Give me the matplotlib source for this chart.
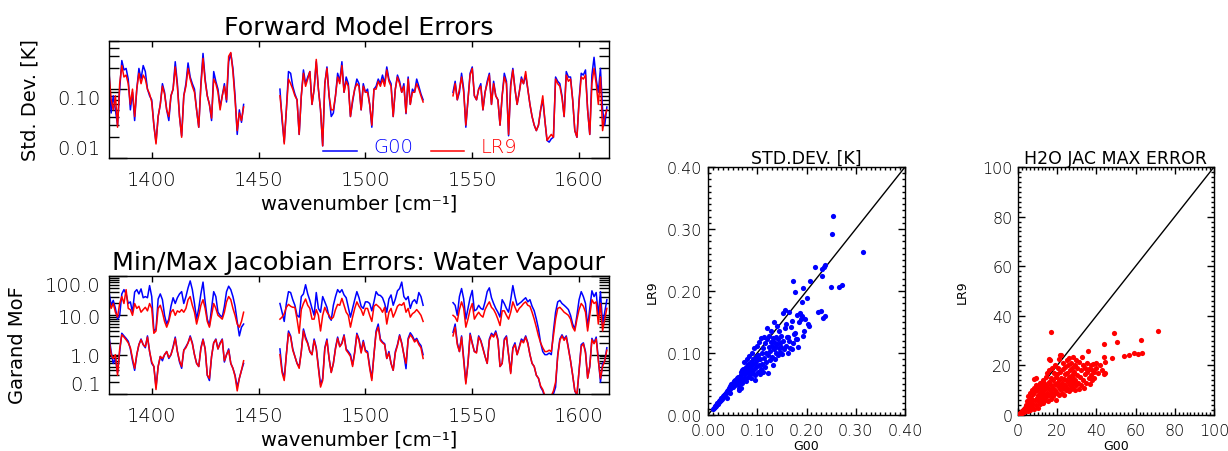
import numpy as np
import matplotlib
matplotlib.use("Agg")
import matplotlib.pyplot as plt
from matplotlib.ticker import LogLocator, NullFormatter, MultipleLocator, FormatStrFormatter

plt.rcParams['font.family'] = ['DejaVu Sans']
plt.rcParams['font.weight'] = 200

# channel wavenumbers [cm-1], three bands with gaps between them
wavenumber = list(range(1380, 1444)) + list(range(1460, 1528)) + list(range(1541, 1614))

# forward model std. dev. [K]
std_g00 = [
    0.19, 0.045, 0.08, 0.05, 0.03, 0.10, 0.26, 0.19, 0.20, 0.14,
    0.05, 0.09, 0.035, 0.10, 0.20, 0.14, 0.22, 0.18, 0.10, 0.08,
    0.07, 0.03, 0.017, 0.04, 0.06, 0.12, 0.09, 0.05, 0.035, 0.08,
    0.10, 0.25, 0.12, 0.04, 0.021, 0.08, 0.12, 0.24, 0.15, 0.12,
    0.10, 0.05, 0.028, 0.12, 0.33, 0.14, 0.08, 0.06, 0.035, 0.18,
    0.13, 0.10, 0.055, 0.08, 0.12, 0.065, 0.25, 0.33, 0.20, 0.08,
    0.022, 0.05, 0.033, 0.06,
    0.10, 0.035, 0.017, 0.05, 0.18, 0.17, 0.11, 0.085, 0.07, 0.022,
    0.08, 0.19, 0.12, 0.15, 0.18, 0.06, 0.10, 0.25, 0.10, 0.05,
    0.015, 0.12, 0.21, 0.08, 0.04, 0.045, 0.08, 0.17, 0.13, 0.25,
    0.09, 0.15, 0.12, 0.04, 0.065, 0.10, 0.14, 0.12, 0.05, 0.12,
    0.09, 0.10, 0.06, 0.028, 0.10, 0.11, 0.14, 0.12, 0.16, 0.12,
    0.21, 0.14, 0.12, 0.04, 0.10, 0.16, 0.13, 0.09, 0.12, 0.044,
    0.15, 0.06, 0.10, 0.09, 0.14, 0.11, 0.085, 0.07,
    0.09, 0.13, 0.07, 0.09, 0.17, 0.10, 0.028, 0.07, 0.17,
    0.21, 0.08, 0.07, 0.10, 0.12, 0.05, 0.09, 0.13, 0.17, 0.06,
    0.13, 0.08, 0.07, 0.03, 0.08, 0.17, 0.13, 0.021, 0.12, 0.20,
    0.10, 0.06, 0.09, 0.15, 0.12, 0.16, 0.10, 0.06, 0.04, 0.03,
    0.025, 0.03, 0.05, 0.07, 0.035, 0.018, 0.017, 0.019, 0.02, 0.15,
    0.13, 0.12, 0.08, 0.04, 0.18, 0.15, 0.15, 0.07, 0.025, 0.02,
    0.07, 0.17, 0.16, 0.19, 0.05, 0.022, 0.16, 0.29, 0.14, 0.09,
    0.20, 0.05, 0.03, 0.055,
]
std_lr9 = [
    0.17, 0.07, 0.05, 0.08, 0.028, 0.12, 0.22, 0.15, 0.16, 0.12,
    0.06, 0.10, 0.04, 0.10, 0.17, 0.12, 0.16, 0.14, 0.10, 0.085,
    0.065, 0.03, 0.016, 0.04, 0.06, 0.11, 0.085, 0.05, 0.04, 0.08,
    0.10, 0.21, 0.11, 0.04, 0.02, 0.08, 0.11, 0.20, 0.14, 0.11,
    0.09, 0.05, 0.028, 0.11, 0.28, 0.13, 0.08, 0.06, 0.038, 0.14,
    0.12, 0.09, 0.05, 0.08, 0.11, 0.07, 0.30, 0.34, 0.18, 0.07,
    0.025, 0.045, 0.035, 0.055,
    0.08, 0.04, 0.016, 0.05, 0.14, 0.12, 0.10, 0.08, 0.07, 0.022,
    0.08, 0.17, 0.11, 0.14, 0.18, 0.06, 0.10, 0.27, 0.10, 0.05,
    0.015, 0.12, 0.20, 0.08, 0.05, 0.05, 0.08, 0.15, 0.12, 0.22,
    0.09, 0.13, 0.11, 0.04, 0.07, 0.10, 0.12, 0.11, 0.05, 0.11,
    0.09, 0.09, 0.06, 0.03, 0.10, 0.10, 0.13, 0.11, 0.14, 0.11,
    0.19, 0.13, 0.11, 0.04, 0.10, 0.15, 0.12, 0.09, 0.11, 0.045,
    0.14, 0.06, 0.09, 0.09, 0.12, 0.10, 0.08, 0.065,
    0.08, 0.12, 0.07, 0.10, 0.15, 0.09, 0.03, 0.07, 0.16,
    0.20, 0.08, 0.07, 0.10, 0.11, 0.05, 0.09, 0.12, 0.16, 0.06,
    0.12, 0.08, 0.07, 0.03, 0.08, 0.15, 0.12, 0.022, 0.11, 0.19,
    0.10, 0.06, 0.09, 0.14, 0.12, 0.18, 0.10, 0.06, 0.04, 0.03,
    0.025, 0.03, 0.05, 0.08, 0.035, 0.018, 0.02, 0.022, 0.02, 0.14,
    0.12, 0.11, 0.075, 0.04, 0.16, 0.13, 0.14, 0.07, 0.025, 0.02,
    0.065, 0.15, 0.14, 0.16, 0.05, 0.022, 0.12, 0.20, 0.12, 0.06,
    0.15, 0.025, 0.04, 0.05,
]

# water vapour jacobian errors (Garand measure of fit), max and min
jac_max_g00 = [
    39, 18, 24, 15, 8, 10, 35, 45, 35, 20,
    22, 12, 39, 45, 35, 47, 28, 30, 28, 57,
    30, 4.0, 4.5, 26, 35, 25, 10, 6, 8, 17,
    28, 20, 28, 35, 40, 20, 30, 50, 75, 45,
    20, 8, 15, 35, 70, 22, 8, 5.5, 15, 40,
    30, 12, 10, 9, 17, 40, 55, 45, 30, 17,
    7, 3, 5, 6,
    20, 12, 7, 20, 40, 38, 25, 18, 10, 9,
    30, 35, 60, 35, 24, 15, 10, 38, 15, 12,
    30, 22, 16, 9, 7.5, 18, 30, 45, 38, 45,
    33, 28, 16, 9, 15, 25, 40, 28, 17, 15,
    22, 22, 20, 13, 22, 40, 33, 32, 28, 20,
    12, 26, 33, 18, 26, 42, 48, 70, 30, 25,
    30, 15, 22, 25, 20, 38, 30, 18,
    21, 18, 10, 30, 48, 26, 8, 15, 28,
    43, 13, 14, 18, 15, 14, 22, 40, 50, 28,
    20, 15, 12, 9, 25, 20, 15, 12, 25, 57,
    30, 18, 20, 22, 25, 28, 22, 25, 17, 13,
    8, 4.5, 2.0, 1.2, 1.0, 1.0, 1.1, 1.0, 4, 12,
    22, 24, 20, 18, 16, 14, 10, 6, 4.5, 10,
    25, 40, 30, 20, 5, 15, 42, 30, 38, 10,
    40, 6, 12, 25,
]
jac_max_lr9 = [
    25, 15, 20, 12, 9, 20, 30, 20, 45, 15,
    14, 10, 20, 15, 17, 12, 14, 16, 13, 20,
    15, 3.5, 4, 15, 18, 12, 7, 5, 7, 12,
    14, 10, 13, 12, 14, 12, 15, 25, 30, 18,
    12, 6, 10, 18, 25, 15, 7, 5, 10, 20,
    15, 10, 9, 8, 12, 22, 30, 25, 15, 10,
    6, 5, 7, 12,
    8, 9, 11, 16, 19, 17, 16, 16, 8, 3.5,
    14, 20, 26, 18, 15, 8, 8, 14, 10, 4,
    10, 16, 12, 10, 8, 9, 14, 19, 18, 27,
    18, 12, 10, 5, 9, 15, 22, 17, 14, 10,
    15, 15, 10, 7, 17, 19, 17, 15, 12, 16,
    6, 12, 15, 9, 12, 17, 19, 18, 21, 12,
    15, 9, 11, 12, 14, 12, 10, 7,
    10, 9, 7, 14, 22, 15, 5, 8, 14,
    20, 8, 10, 12, 10, 9, 14, 18, 22, 16,
    14, 11, 8, 5.5, 13, 13, 10, 8, 12, 22,
    16, 12, 15, 17, 20, 22, 18, 17, 12, 8,
    5, 3, 2.0, 1.5, 1.2, 1.2, 1.3, 1.2, 3, 8,
    15, 16, 14, 12, 11, 10, 8, 5, 4, 8,
    14, 20, 17, 12, 4, 10, 25, 20, 22, 6,
    20, 4, 8, 15,
]
jac_min_g00 = [
    3.0, 1.2, 0.6, 0.8, 0.35, 1.2, 3.5, 3.0, 2.6, 2.2,
    1.4, 0.7, 0.4, 1.0, 1.8, 2.5, 1.8, 1.5, 3.0, 1.2,
    0.6, 0.5, 0.15, 0.5, 0.9, 0.7, 1.0, 1.2, 0.8, 1.0,
    1.6, 2.8, 1.2, 0.65, 0.45, 1.3, 1.6, 2.0, 3.0, 2.0,
    1.0, 0.6, 0.5, 1.5, 2.5, 1.4, 0.3, 0.22, 0.9, 2.0,
    2.5, 1.4, 2.0, 2.5, 0.65, 1.0, 1.4, 0.6, 0.45, 0.3,
    0.15, 0.25, 0.4, 0.6,
    1.4, 0.4, 0.25, 1.0, 4.0, 3.0, 1.4, 0.9, 0.6, 0.5,
    1.2, 4.5, 2.8, 2.0, 1.2, 1.0, 2.5, 1.5, 0.5, 0.17,
    0.25, 1.5, 2.5, 0.8, 0.36, 0.6, 1.5, 2.8, 1.6, 2.0,
    3.2, 1.4, 1.2, 1.0, 0.55, 1.2, 3.5, 2.5, 1.2, 2.3,
    1.3, 1.2, 0.5, 0.25, 1.0, 4.0, 6.0, 2.5, 2.1, 1.9,
    0.8, 1.2, 0.6, 0.4, 1.2, 1.8, 3.2, 2.0, 1.0, 0.44,
    2.6, 3.6, 3.0, 2.3, 2.6, 2.0, 1.7, 1.0,
    3.7, 6.0, 2.0, 1.2, 3.0, 0.8, 0.2, 0.6, 3.5,
    2.0, 1.2, 1.2, 3.0, 2.3, 1.5, 0.9, 0.6, 2.5, 3.5,
    3.0, 4.0, 2.5, 0.5, 0.6, 2.5, 3.0, 1.0, 0.36, 1.5,
    2.0, 1.0, 1.6, 2.5, 2.2, 3.0, 2.0, 1.0, 0.6, 0.5,
    0.3, 0.25, 0.15, 0.12, 0.08, 0.06, 0.07, 0.08, 0.1, 0.15,
    1.0, 2.5, 3.2, 2.5, 3.0, 1.5, 0.7, 0.3, 0.12, 0.09,
    0.4, 1.8, 2.0, 1.2, 0.26, 0.5, 2.6, 2.0, 2.8, 0.8,
    0.2, 0.6, 0.7, 1.5,
]
jac_min_lr9 = [
    2.5, 1.0, 0.8, 1.0, 0.3, 1.4, 3.2, 2.8, 2.4, 2.0,
    1.5, 0.8, 0.45, 1.0, 1.8, 2.4, 1.8, 1.6, 2.8, 1.2,
    0.65, 0.5, 0.13, 0.5, 0.9, 0.8, 1.0, 1.2, 0.85, 1.0,
    1.5, 2.6, 1.2, 0.7, 0.5, 1.3, 1.5, 2.0, 2.8, 1.9,
    1.0, 0.6, 0.5, 1.4, 2.4, 1.4, 0.3, 0.25, 0.9, 2.0,
    2.4, 1.4, 1.9, 2.4, 0.7, 1.0, 1.3, 0.6, 0.45, 0.28,
    0.12, 0.25, 0.4, 0.7,
    1.0, 0.35, 0.22, 1.0, 3.5, 2.8, 1.3, 0.9, 0.6, 0.45,
    1.2, 4.0, 2.5, 1.9, 1.2, 1.0, 2.3, 1.4, 0.45, 0.15,
    0.22, 1.4, 2.3, 0.8, 0.35, 0.6, 1.4, 2.6, 1.6, 1.9,
    3.0, 1.3, 1.1, 0.9, 0.5, 1.1, 3.2, 2.3, 1.1, 2.1,
    1.2, 1.1, 0.45, 0.22, 1.0, 3.6, 5.0, 2.3, 2.0, 1.8,
    0.8, 1.1, 0.6, 0.4, 1.1, 1.7, 3.0, 1.9, 1.0, 0.6,
    2.4, 3.2, 2.7, 2.1, 2.4, 1.8, 1.5, 0.8,
    3.0, 5.0, 1.8, 1.2, 2.8, 0.7, 0.18, 0.6, 3.2,
    1.9, 1.2, 1.1, 2.8, 2.2, 1.4, 0.9, 0.6, 2.3, 3.2,
    2.8, 3.6, 2.3, 0.5, 0.6, 2.3, 2.8, 1.0, 0.33, 1.4,
    1.8, 1.0, 1.5, 2.3, 2.0, 2.8, 1.9, 1.0, 0.6, 0.5,
    0.3, 0.25, 0.16, 0.13, 0.09, 0.07, 0.08, 0.09, 0.12, 0.2,
    0.9, 2.3, 3.0, 2.3, 2.8, 1.4, 0.7, 0.3, 0.12, 0.1,
    0.4, 1.6, 1.9, 1.1, 0.25, 0.5, 2.4, 1.9, 2.5, 0.7,
    0.25, 0.5, 0.7, 1.3,
]

# scatter: std. dev. G00 vs LR9 [K]
sd_pts = [
    (0.010, 0.010), (0.012, 0.011), (0.014, 0.013), (0.015, 0.015), (0.016, 0.014),
    (0.017, 0.016), (0.018, 0.017), (0.019, 0.019), (0.020, 0.018), (0.021, 0.020),
    (0.022, 0.021), (0.023, 0.023), (0.024, 0.022), (0.025, 0.025), (0.026, 0.024),
    (0.027, 0.027), (0.028, 0.026), (0.029, 0.028), (0.030, 0.029), (0.031, 0.031),
    (0.032, 0.030), (0.033, 0.033), (0.034, 0.032), (0.035, 0.034), (0.036, 0.036),
    (0.037, 0.035), (0.038, 0.039), (0.040, 0.038), (0.041, 0.041), (0.042, 0.040),
    (0.043, 0.044), (0.044, 0.042), (0.045, 0.047), (0.046, 0.045), (0.047, 0.050),
    (0.048, 0.048), (0.050, 0.052), (0.051, 0.050), (0.052, 0.055), (0.053, 0.053),
    (0.055, 0.057), (0.056, 0.055), (0.058, 0.060), (0.059, 0.057), (0.060, 0.062),
    (0.062, 0.058), (0.039, 0.027), (0.045, 0.035), (0.050, 0.045), (0.055, 0.048),
    (0.060, 0.050), (0.062, 0.043), (0.066, 0.043), (0.068, 0.055), (0.072, 0.058),
    (0.062, 0.060), (0.064, 0.052), (0.066, 0.070), (0.068, 0.064), (0.070, 0.072),
    (0.071, 0.058), (0.072, 0.075), (0.073, 0.066), (0.074, 0.085), (0.075, 0.070),
    (0.076, 0.060), (0.077, 0.078), (0.078, 0.068), (0.079, 0.090), (0.080, 0.074),
    (0.081, 0.062), (0.082, 0.082), (0.083, 0.070), (0.084, 0.095), (0.085, 0.077),
    (0.086, 0.066), (0.087, 0.086), (0.088, 0.073), (0.089, 0.100), (0.090, 0.080),
    (0.091, 0.068), (0.092, 0.090), (0.093, 0.075), (0.094, 0.108), (0.095, 0.084),
    (0.096, 0.064), (0.097, 0.094), (0.098, 0.078), (0.099, 0.112), (0.100, 0.088),
    (0.101, 0.070), (0.063, 0.040), (0.070, 0.051), (0.078, 0.055), (0.088, 0.060),
    (0.095, 0.056), (0.102, 0.096), (0.103, 0.080), (0.104, 0.118), (0.105, 0.066),
    (0.106, 0.090), (0.107, 0.074), (0.108, 0.125), (0.109, 0.100), (0.110, 0.082),
    (0.111, 0.070), (0.112, 0.108), (0.113, 0.126), (0.114, 0.092), (0.115, 0.078),
    (0.116, 0.116), (0.117, 0.100), (0.118, 0.086), (0.119, 0.140), (0.120, 0.122),
    (0.121, 0.068), (0.122, 0.096), (0.123, 0.110), (0.124, 0.128), (0.125, 0.088),
    (0.126, 0.104), (0.127, 0.118), (0.128, 0.136), (0.129, 0.094), (0.130, 0.112),
    (0.131, 0.080), (0.132, 0.124), (0.133, 0.106), (0.134, 0.150), (0.135, 0.118),
    (0.136, 0.090), (0.137, 0.110), (0.138, 0.126), (0.139, 0.100), (0.140, 0.144),
    (0.141, 0.114), (0.142, 0.096), (0.143, 0.122), (0.144, 0.108), (0.145, 0.136),
    (0.146, 0.102), (0.147, 0.116), (0.148, 0.128), (0.149, 0.110), (0.150, 0.098),
    (0.152, 0.120), (0.153, 0.164), (0.155, 0.106), (0.156, 0.140), (0.157, 0.170),
    (0.158, 0.112), (0.159, 0.147), (0.160, 0.126), (0.162, 0.100), (0.163, 0.126),
    (0.164, 0.166), (0.165, 0.120), (0.166, 0.108), (0.168, 0.142), (0.170, 0.107),
    (0.170, 0.151), (0.172, 0.116), (0.173, 0.216), (0.174, 0.130), (0.176, 0.133),
    (0.177, 0.198), (0.178, 0.122), (0.180, 0.123), (0.181, 0.162), (0.183, 0.110),
    (0.185, 0.150), (0.186, 0.164), (0.188, 0.155), (0.190, 0.182), (0.191, 0.160),
    (0.192, 0.205), (0.193, 0.128), (0.195, 0.136), (0.196, 0.155), (0.200, 0.189),
    (0.204, 0.146), (0.206, 0.144), (0.208, 0.216), (0.218, 0.238), (0.224, 0.166),
    (0.230, 0.167), (0.231, 0.224), (0.232, 0.236), (0.234, 0.157), (0.236, 0.238),
    (0.237, 0.242), (0.237, 0.159), (0.250, 0.207), (0.251, 0.292), (0.254, 0.321),
    (0.266, 0.207), (0.273, 0.210), (0.314, 0.263),
]
sd_g00 = [p[0] for p in sd_pts]
sd_lr9 = [p[1] for p in sd_pts]

# scatter: H2O jacobian max error G00 vs LR9
jm_pts = [
    (0.5, 0.3), (1, 0.8), (1.2, 0.5), (1.5, 1.2), (2, 1.5), (2.2, 0.8), (2.5, 2.2), (3, 2.5),
    (3, 1.2), (3.5, 3), (3.8, 1.8), (4, 4), (4, 2.5), (4.5, 3.2), (4.8, 5.5), (5, 1.5),
    (5, 4.5), (5.3, 7.5), (5.5, 3), (5.8, 6), (6, 2.2), (6, 4), (6.3, 9), (6.5, 5),
    (6.8, 7), (7, 3), (7, 10), (7.2, 6), (7.5, 4.5), (7.8, 8.5), (8, 2.5), (8, 11),
    (8.2, 14.5), (8.5, 6), (8.8, 9.5), (9, 4), (9, 12), (9.3, 15), (9.5, 7), (9.8, 10),
    (10, 3), (10, 5.5), (10.2, 8), (10.5, 11.5), (10.8, 6.5), (11, 9), (11, 13), (11.3, 4.5),
    (11.5, 7.5), (11.8, 10.5), (12, 6), (12, 12), (12.3, 8.5), (12.5, 14), (12.8, 5), (13, 9.5),
    (13, 11), (13.3, 7), (13.5, 13), (13.8, 8), (14, 6), (14, 10.5), (14.3, 15.5), (14.5, 12),
    (14.8, 7.5), (15, 9), (15, 17), (15.3, 5.5), (15.5, 11), (15.8, 13.5), (16, 8), (16, 18),
    (16.3, 10), (16.5, 22), (16.8, 6.5), (17, 12), (17, 15), (17.3, 9), (17.5, 19), (17.8, 7.5),
    (18, 11), (18, 14), (18.3, 17), (18.5, 8.5), (18.8, 12.5), (19, 10), (19, 20), (19.3, 15.5),
    (19.5, 6), (19.8, 13), (20, 9), (20, 16.5), (20.3, 11.5), (20.5, 19), (20.8, 8), (21, 14),
    (21, 22.5), (21.3, 10.5), (21.5, 17.5), (21.8, 12), (22, 15), (22, 24), (15.6, 22.6), (17, 33.6),
    (21.3, 24), (22.3, 9), (22.5, 13), (22.8, 18.5), (23, 11), (23, 21), (23.3, 14.5), (23.5, 8),
    (23.8, 16.5), (24, 12), (24, 19.5), (24.3, 10), (24.5, 14), (24.8, 22), (25, 17), (25, 11),
    (25.3, 13.5), (25.5, 20), (25.8, 9.5), (26, 15.5), (26, 23), (26.3, 12), (26.5, 18), (26.8, 10.5),
    (27, 14), (27, 21), (27.3, 16), (27.5, 12.5), (27.8, 19), (28, 11), (28, 23.5), (28.3, 15),
    (28.5, 13), (28.8, 17.5), (29, 10), (29, 20), (29.3, 14), (29.5, 22), (29.8, 12), (30, 16),
    (30, 19), (30.5, 13), (31, 10.5), (31, 21.5), (31.5, 15.5), (32, 12), (32, 18), (32.5, 23.5),
    (33, 14), (33, 20), (33.5, 11), (34, 16.5), (34, 19), (34.5, 13), (35, 17.5), (35, 21),
    (35.7, 25.7), (36, 15), (36, 18.5), (36.5, 12.5), (37, 20), (37, 16), (37.5, 14), (38, 18),
    (38.5, 20.5), (39, 15), (39, 17.5), (40, 19), (40, 21), (41, 17), (42, 20), (43, 18),
    (44, 16.5), (44.5, 17), (44.5, 21.5), (43.9, 23.3), (43.9, 28.7), (47.8, 23), (49, 33), (50.5, 29.3),
    (54, 23.7), (56.6, 24.2), (59, 24.9), (61, 24.5), (62.6, 30.4), (63.3, 24.8), (71.4, 34),
]
jm_g00 = [p[0] for p in jm_pts]
jm_lr9 = [p[1] for p in jm_pts]

BLUE = (0, 0, 1)
RED = (1, 0, 0)

fig = plt.figure(figsize=(12.28, 4.52), dpi=100)
W, H = 1228.0, 452.0


def px_axes(left, top, right, bottom):
    # axes placed by pixel box of the reference picture
    return fig.add_axes([left / W, 1 - bottom / H, (right - left) / W, (bottom - top) / H])


def bands(x, y):
    # split into contiguous bands so the gaps stay empty
    x = np.asarray(x, float)
    y = np.asarray(y, float)
    cut = np.where(np.diff(x) > 2)[0] + 1
    return zip(np.split(x, cut), np.split(y, cut))


def spectrum_axes(ax, ylim, yticks, ylabels, title, ylabel, ylab_x, ylab_y):
    ax.set_yscale('log')
    ax.set_xlim(1380, 1614)
    ax.set_ylim(*ylim)
    ax.set_xticks([1400, 1450, 1500, 1550, 1600])
    ax.set_yticks(yticks, labels=ylabels)
    ax.yaxis.set_minor_locator(LogLocator(base=10, subs=np.arange(2, 10)))
    ax.yaxis.set_minor_formatter(NullFormatter())
    ax.tick_params(axis='x', direction='in', top=True, length=4, width=1, labelsize=14, pad=9)
    ax.tick_params(axis='y', which='major', direction='in', right=True, length=13, width=1,
                   labelsize=14, pad=6)
    ax.tick_params(axis='y', which='minor', direction='in', right=True, length=7, width=1)
    labs = ax.get_yticklabels()
    labs[0].set_va('bottom')
    labs[-1].set_va('top')
    ax.set_xlabel('wavenumber [cm\u207b\u00b9]', fontsize=14, labelpad=3)
    ax.set_ylabel(ylabel, fontsize=14)
    ax.yaxis.set_label_coords(ylab_x, ylab_y)
    ax.set_title(title, fontsize=18.3, pad=5)
    for s in ax.spines.values():
        s.set_linewidth(1)


# --- Forward model errors
ax1 = px_axes(109, 42, 609, 159)
for x, y in bands(wavenumber, std_g00):
    ax1.plot(x, y, color=BLUE, lw=1.1)
for x, y in bands(wavenumber, std_lr9):
    ax1.plot(x, y, color=RED, lw=1.1)
spectrum_axes(ax1, (0.01, 0.5), [0.01, 0.1], ['0.01', '0.10'],
              'Forward Model Errors', 'Std. Dev. [K]', -0.138, 0.5)
# legend drawn like the IDL one
ax1.plot([0.428, 0.496], [0.06, 0.06], color=BLUE, lw=1.1, transform=ax1.transAxes)
ax1.text(0.528, 0.055, 'G00', color=BLUE, fontsize=14, transform=ax1.transAxes, va='baseline')
ax1.plot([0.643, 0.709], [0.06, 0.06], color=RED, lw=1.1, transform=ax1.transAxes)
ax1.text(0.744, 0.055, 'LR9', color=RED, fontsize=14, transform=ax1.transAxes, va='baseline')

# --- Min/Max jacobian errors
ax2 = px_axes(109, 277, 609, 395)
for series, col in [(jac_max_g00, BLUE), (jac_min_g00, BLUE), (jac_max_lr9, RED), (jac_min_lr9, RED)]:
    for x, y in bands(wavenumber, series):
        ax2.plot(x, y, color=col, lw=1.1)
spectrum_axes(ax2, (0.1, 100), [0.1, 1, 10, 100], ['0.1', '1.0', '10.0', '100.0'],
              'Min/Max Jacobian Errors: Water Vapour', 'Garand MoF', -0.164, 0.42)


def scatter_axes(ax, lim, major, minor, fmt, title):
    ax.set_xlim(0, lim)
    ax.set_ylim(0, lim)
    ax.plot([0, lim], [0, lim], color='k', lw=1)
    for axis in (ax.xaxis, ax.yaxis):
        axis.set_major_locator(MultipleLocator(major))
        axis.set_minor_locator(MultipleLocator(minor))
        axis.set_major_formatter(FormatStrFormatter(fmt))
    ax.tick_params(which='both', direction='in', top=True, right=True, width=1, labelsize=11.5)
    ax.tick_params(which='major', length=5)
    ax.tick_params(which='minor', length=2.5)
    ax.tick_params(axis='x', pad=6)
    ax.tick_params(axis='y', pad=4)
    ax.set_title(title, fontsize=12.5, pad=3)
    ax.set_xlabel('G00', fontsize=9)
    ax.set_ylabel('LR9', fontsize=9)
    ax.xaxis.set_label_coords(0.5, -0.096)
    ax.yaxis.set_label_coords(-0.25, 0.5)
    for s in ax.spines.values():
        s.set_linewidth(1)


ax3 = px_axes(708, 168, 905, 416)
ax3.scatter(sd_g00, sd_lr9, s=14, color=BLUE, linewidths=0, zorder=3)
scatter_axes(ax3, 0.4, 0.1, 0.01, '%.2f', 'STD.DEV. [K]')

ax4 = px_axes(1018, 168, 1214, 416)
ax4.scatter(jm_g00, jm_lr9, s=14, color=RED, linewidths=0, zorder=3)
scatter_axes(ax4, 100, 20, 2, '%d', 'H2O JAC MAX ERROR')

fig.savefig('out.png', dpi=100)
